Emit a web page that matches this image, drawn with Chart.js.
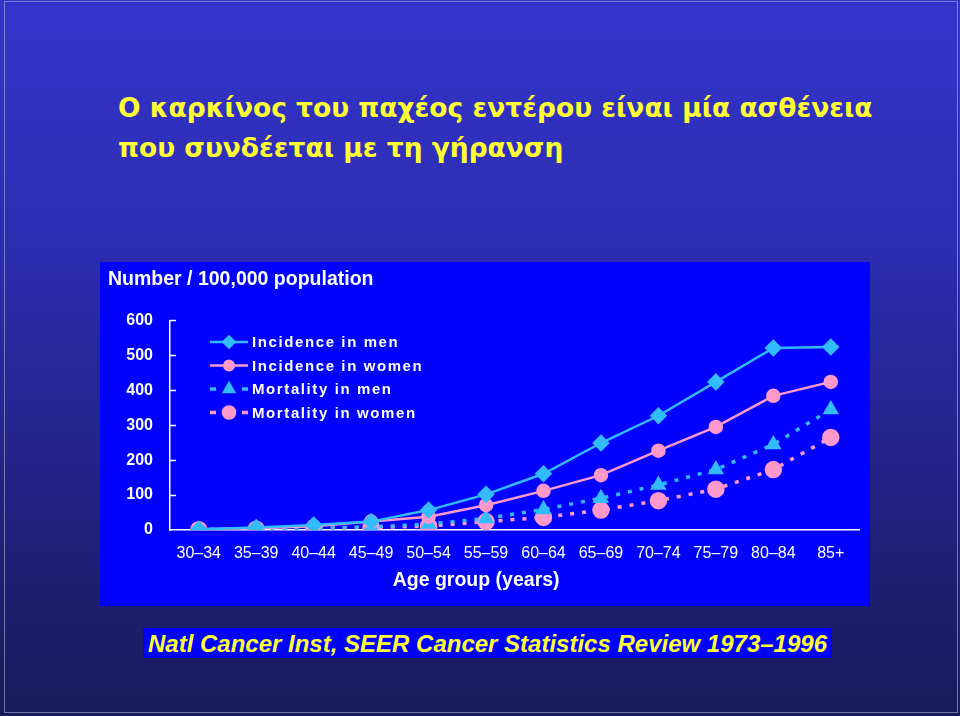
<!DOCTYPE html>
<html>
<head>
<meta charset="utf-8">
<script src="https://cdn.jsdelivr.net/npm/chart.js@4"></script>
<style>
  html, body { margin: 0; padding: 0; }
  body {
    width: 960px; height: 716px; position: relative; overflow: hidden;
    background: linear-gradient(#3434cc 0%, #2c2cb0 35%, #20207a 75%, #1a1a5c 100%);
    font-family: "Liberation Sans", Arial, sans-serif;
  }
  .frame { position: absolute; left: 4px; top: 1px; width: 952px; height: 710px; border: 1px solid rgba(190,190,215,0.55); }
  .slide-title {
    position: absolute; left: 118px; top: 88px; white-space: nowrap;
    font-family: "DejaVu Sans", sans-serif; font-weight: bold; font-size: 26.5px; line-height: 40px; color: #ffff33;
  }
  #panel { position: absolute; left: 100px; top: 262px; width: 770px; height: 344px; background: #0000ff; }
  .source {
    position: absolute; left: 143px; top: 628px; width: 689px; height: 30px; background: #0000ff;
    color: #ffff33; font-style: italic; font-weight: bold; font-size: 24px; line-height: 31px; text-align: center;
    white-space: nowrap;
  }
</style>
</head>
<body>
<div class="frame"></div>
<div class="slide-title">Ο καρκίνος του παχέος εντέρου είναι μία ασθένεια<br>που συνδέεται με τη γήρανση</div>
<div id="panel"><canvas id="chart"></canvas></div>
<div class="source">Natl Cancer Inst, SEER Cancer Statistics Review 1973–1996</div>

<script>
const ageGroups = ['30–34', '35–39', '40–44', '45–49', '50–54', '55–59', '60–64', '65–69', '70–74', '75–79', '80–84', '85+'];
const incidenceMen = [2, 7, 14, 24, 57, 102, 161, 249, 327, 424, 521, 524];
const incidenceWomen = [2, 5, 11, 24, 38, 71, 112, 157, 227, 295, 384, 424];
const mortalityMen = [1, 2, 5, 9, 17, 33, 59, 91, 129, 173, 245, 345];
const mortalityWomen = [1, 2, 4, 7, 11, 24, 36, 57, 84, 117, 173, 265];
const seriesNames = ['Incidence in men', 'Incidence in women', 'Mortality in men', 'Mortality in women'];
const yTicks = [0, 100, 200, 300, 400, 500, 600];

const MEN = '#33bbff';
const WOMEN = '#ff99cc';
const FONT = '"Liberation Sans", Arial, sans-serif';

function marker(ctx, style, r, x, y) {
  Chart.helpers.drawPoint(ctx, { pointStyle: style, radius: r, rotation: 0, borderWidth: 1 }, x, y);
}

// legend with line + marker, and inward y ticks, and x axis title
const slideDecor = {
  id: 'slideDecor',
  afterDraw(chart) {
    const ctx = chart.ctx;
    const y = chart.scales.y, x = chart.scales.x;
    ctx.save();
    ctx.strokeStyle = '#ffffff';
    ctx.lineWidth = 1.5;
    yTicks.forEach(v => {
      if (v === 0) return;
      const py = Math.round(y.getPixelForValue(v)) + 0.5;
      ctx.beginPath();
      ctx.moveTo(x.left, py);
      ctx.lineTo(x.left + 6, py);
      ctx.stroke();
    });

    // x title
    ctx.fillStyle = '#ffffff';
    ctx.font = 'bold 19.5px ' + FONT;
    ctx.textAlign = 'center';
    ctx.textBaseline = 'middle';
    ctx.fillText('Age group (years)', x.left + (x.right - x.left) * 0.444, chart.height - 25);

    // legend
    const lx = 110, ly = 80, gap = 23.5;
    chart.data.datasets.forEach((ds, i) => {
      const cy = ly + i * gap;
      ctx.strokeStyle = ds.borderColor;
      ctx.fillStyle = ds.pointBackgroundColor;
      ctx.lineWidth = ds.borderWidth;
      ctx.beginPath();
      if (ds.borderDash) {
        ctx.moveTo(lx, cy); ctx.lineTo(lx + 6, cy);
        ctx.moveTo(lx + 32, cy); ctx.lineTo(lx + 38, cy);
      } else {
        ctx.moveTo(lx, cy); ctx.lineTo(lx + 38, cy);
      }
      ctx.stroke();
      marker(ctx, ds.pointStyle, ds.pointRadius * 0.8, lx + 19, cy);
      ctx.fillStyle = '#ffffff';
      ctx.font = 'bold 15px ' + FONT;
      ctx.textAlign = 'left';
      ctx.letterSpacing = '1.6px';
      ctx.fillText(ds.label, lx + 42, cy + 1);
      ctx.letterSpacing = '0px';
    });
    ctx.restore();
  }
};

new Chart(document.getElementById('chart'), {
  type: 'line',
  data: {
    labels: ageGroups,
    datasets: [
      { label: seriesNames[0], data: incidenceMen, borderColor: MEN, pointBackgroundColor: MEN, pointBorderColor: MEN,
        borderWidth: 2.5, pointStyle: 'rectRot', pointRadius: 7 },
      { label: seriesNames[1], data: incidenceWomen, borderColor: WOMEN, pointBackgroundColor: WOMEN, pointBorderColor: WOMEN,
        borderWidth: 2.5, pointStyle: 'circle', pointRadius: 6 },
      { label: seriesNames[2], data: mortalityMen, borderColor: MEN, pointBackgroundColor: MEN, pointBorderColor: MEN,
        borderWidth: 3.5, borderDash: [4, 8], pointStyle: 'triangle', pointRadius: 6 },
      { label: seriesNames[3], data: mortalityWomen, borderColor: WOMEN, pointBackgroundColor: WOMEN, pointBorderColor: WOMEN,
        borderWidth: 3.5, borderDash: [4, 8], pointStyle: 'circle', pointRadius: 7 },
    ]
  },
  options: {
    responsive: true,
    maintainAspectRatio: false,
    animation: false,
    layout: { padding: { left: 8, right: 8, top: 0, bottom: 0 } },
    elements: { line: { tension: 0 } },
    plugins: {
      legend: { display: false },
      tooltip: { enabled: false },
      title: {
        display: true, text: 'Number / 100,000 population', align: 'start', color: '#ffffff',
        font: { family: FONT, size: 19.5, weight: 'bold' }, padding: { top: 6, bottom: 29 }
      }
    },
    scales: {
      x: {
        offset: true,
        afterFit: s => { s.height = 76; },
        grid: { display: false, drawTicks: false },
        border: { display: true, color: '#ffffff', width: 1.5 },
        ticks: { color: '#ffffff', padding: 14, maxRotation: 0, autoSkip: false, font: { family: FONT, size: 16 } }
      },
      y: {
        min: 0, max: 600,
        afterFit: s => { s.width = 62; },
        afterBuildTicks: s => { s.ticks = yTicks.map(v => ({ value: v })); },
        grid: { display: false, drawTicks: false },
        border: { display: true, color: '#ffffff', width: 1.5 },
        ticks: { color: '#ffffff', padding: 17, font: { family: FONT, size: 16, weight: 'bold' } }
      }
    }
  },
  plugins: [slideDecor]
});
</script>
</body>
</html>
